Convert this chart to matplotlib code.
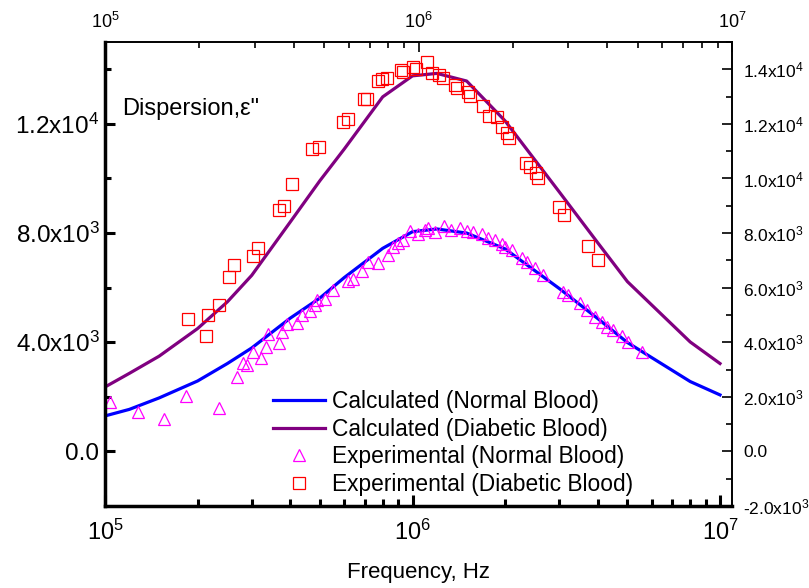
import matplotlib
matplotlib.use('Agg')
import matplotlib.pyplot as plt
from matplotlib.ticker import FixedLocator, FixedFormatter, LogLocator, NullFormatter, MultipleLocator

plt.rcParams['font.family'] = ['Liberation Sans', 'DejaVu Sans']
plt.rcParams['mathtext.default'] = 'regular'

# calculated curves (Hz, dispersion eps'')
calc_freq = [1e5, 1.2e5, 1.5e5, 2e5, 2.5e5, 3e5, 4e5, 5e5, 6e5, 8e5,
             1e6, 1.2e6, 1.5e6, 2e6, 3e6, 4e6, 5e6, 8e6, 1e7]
calc_normal = [1300, 1540, 1960, 2580, 3220, 3790, 4880, 5620, 6370, 7440,
               8050, 8150, 8000, 7420, 5970, 4870, 3990, 2560, 2070]
calc_diabetic = [2360, 2860, 3490, 4500, 5480, 6450, 8400, 9920, 11080, 12990,
                 13760, 13850, 13570, 12110, 9510, 7650, 6220, 4010, 3220]

# experimental, normal blood
exp_normal_freq = [1.04e5, 1.28e5, 1.56e5, 1.83e5, 2.35e5, 2.69e5, 2.80e5, 2.90e5, 3.03e5, 3.21e5,
                   3.33e5, 3.40e5, 3.68e5, 3.76e5, 3.90e5, 4.21e5, 4.36e5, 4.64e5, 4.82e5, 4.90e5,
                   5.19e5, 5.53e5, 6.18e5, 6.42e5, 6.85e5, 7.17e5, 7.74e5, 8.34e5, 8.66e5, 8.99e5,
                   9.31e5, 9.85e5, 1.044e6, 1.098e6, 1.126e6, 1.184e6, 1.266e6, 1.334e6, 1.427e6, 1.501e6,
                   1.577e6, 1.679e6, 1.764e6, 1.855e6, 1.950e6, 2.0e6, 2.10e6, 2.27e6, 2.36e6, 2.50e6,
                   2.66e6, 3.09e6, 3.21e6, 3.51e6, 3.69e6, 3.92e6, 4.12e6, 4.28e6, 4.50e6, 4.79e6,
                   5.03e6, 5.57e6]
exp_normal = [1800, 1430, 1190, 2020, 1580, 2720, 3240, 3150, 3630, 3410,
              3830, 4300, 3970, 4380, 4670, 4710, 5000, 5130, 5370, 5550,
              5590, 5900, 6250, 6320, 6610, 6940, 6920, 7200, 7500, 7630,
              7750, 8080, 7970, 8110, 8180, 8040, 8260, 8110, 8190, 8060,
              8050, 7970, 7830, 7730, 7600, 7500, 7380, 7080, 6940, 6710,
              6470, 5840, 5730, 5430, 5180, 4940, 4730, 4570, 4450, 4230,
              4010, 3660]

# experimental, diabetic blood
exp_diab_freq = [1.86e5, 2.13e5, 2.17e5, 2.35e5, 2.54e5, 2.63e5, 3.02e5, 3.14e5, 3.67e5, 3.81e5,
                 4.05e5, 4.72e5, 4.97e5, 5.96e5, 6.18e5, 6.96e5, 7.10e5, 7.74e5, 7.96e5, 8.28e5,
                 9.16e5, 9.33e5, 1.006e6, 1.027e6, 1.112e6, 1.154e6, 1.224e6, 1.252e6, 1.377e6, 1.398e6,
                 1.510e6, 1.540e6, 1.699e6, 1.767e6, 1.878e6, 1.950e6, 2.025e6, 2.065e6, 2.331e6, 2.411e6,
                 2.512e6, 2.559e6, 3.000e6, 3.114e6, 3.709e6, 4.003e6]
exp_diab = [4850, 4240, 4990, 5380, 6400, 6830, 7160, 7450, 8850, 8990,
            9800, 11070, 11150, 12080, 12190, 12900, 12920, 13580, 13650, 13670,
            13970, 13890, 14100, 14000, 14250, 13870, 13800, 13690, 13440, 13330,
            13170, 13010, 12660, 12280, 12250, 11890, 11660, 11480, 10550, 10430,
            10200, 10030, 8950, 8650, 7520, 7010]

x_ticks = [1e5, 1e6, 1e7]
x_labels = ['10$^5$', '10$^6$', '10$^7$']
left_ticks = [0, 4000, 8000, 12000]
left_labels = ['0.0', '4.0x10$^3$', '8.0x10$^3$', '1.2x10$^4$']
right_ticks = [-2000, 0, 2000, 4000, 6000, 8000, 10000, 12000, 14000]
right_labels = ['-2.0x10$^3$', '0.0', '2.0x10$^3$', '4.0x10$^3$', '6.0x10$^3$',
                '8.0x10$^3$', '1.0x10$^4$', '1.2x10$^4$', '1.4x10$^4$']

fig = plt.figure(figsize=(8.09, 5.88), dpi=100)
ax = fig.add_axes([105/809, (588-506)/588, 627/809, 464/588])

ax.plot(calc_freq, calc_normal, color='#0000ff', lw=2.3, label='Calculated (Normal Blood)')
ax.plot(calc_freq, calc_diabetic, color='#800080', lw=2.3, label='Calculated (Diabetic Blood)')
ax.plot(exp_normal_freq, exp_normal, ls='none', marker='^', ms=9, mfc='none',
        mec='#ff00ff', mew=0.9, label='Experimental (Normal Blood)')
ax.plot(exp_diab_freq, exp_diab, ls='none', marker='s', ms=8, mfc='none',
        mec='#ff0000', mew=0.9, label='Experimental (Diabetic Blood)')

ax.set_xscale('log')
ax.set_xlim(1e5, 1.094e7)
ax.set_ylim(-2000, 15000)

ax.xaxis.set_major_locator(FixedLocator(x_ticks))
ax.xaxis.set_major_formatter(FixedFormatter(x_labels))
ax.xaxis.set_minor_locator(LogLocator(base=10, subs=range(2, 10)))
ax.xaxis.set_minor_formatter(NullFormatter())
ax.yaxis.set_major_locator(FixedLocator(left_ticks))
ax.yaxis.set_major_formatter(FixedFormatter(left_labels))
ax.yaxis.set_minor_locator(FixedLocator([2000, 6000, 10000, 14000]))

ax.tick_params(axis='x', which='major', direction='in', length=8, width=2.2, labelsize=17, pad=10, top=False)
ax.tick_params(axis='x', which='minor', direction='in', length=5, width=2.2, top=False)
ax.tick_params(axis='y', which='major', direction='in', length=7, width=2.2, labelsize=17.5, pad=4, right=False)
ax.tick_params(axis='y', which='minor', direction='in', length=4.5, width=2.2, right=False)

for side in ['left', 'bottom']:
    ax.spines[side].set_linewidth(2.5)
for side in ['top', 'right']:
    ax.spines[side].set_linewidth(1.4)

ax.set_xlabel('Frequency, Hz', fontsize=16, labelpad=12)
ax.text(0.027, 0.856, 'Dispersion,ε"', transform=ax.transAxes,
        fontsize=17, ha='left', va='center')

ax.legend(loc='lower left', bbox_to_anchor=(0.268, 0.022), frameon=False, fontsize=16.4,
          handlelength=2.3, handletextpad=0.3, labelspacing=0.2, borderpad=0,
          borderaxespad=0, numpoints=1)

# top axis
ax_top = ax.twiny()
ax_top.set_xscale('log')
ax_top.set_xlim(1e5, 1e7)
ax_top.xaxis.set_major_locator(FixedLocator(x_ticks))
ax_top.xaxis.set_major_formatter(FixedFormatter(x_labels))
ax_top.xaxis.set_minor_locator(LogLocator(base=10, subs=range(2, 10)))
ax_top.xaxis.set_minor_formatter(NullFormatter())
ax_top.tick_params(axis='x', which='major', direction='in', length=7, width=1.2, labelsize=13, pad=7)
ax_top.tick_params(axis='x', which='minor', direction='in', length=4.5, width=1.2)
for s in ax_top.spines.values():
    s.set_visible(False)

# right axis
ax_r = ax.twinx()
ax_r.set_ylim(-2000, 15000)
ax_r.yaxis.set_major_locator(FixedLocator(right_ticks))
ax_r.yaxis.set_major_formatter(FixedFormatter(right_labels))
ax_r.yaxis.set_minor_locator(MultipleLocator(1000))
ax_r.tick_params(axis='y', which='major', direction='in', length=7, width=1.2, labelsize=12.5, pad=8)
ax_r.tick_params(axis='y', which='minor', direction='in', length=4, width=1.2)
for s in ax_r.spines.values():
    s.set_visible(False)

fig.savefig('out.png', dpi=100)
